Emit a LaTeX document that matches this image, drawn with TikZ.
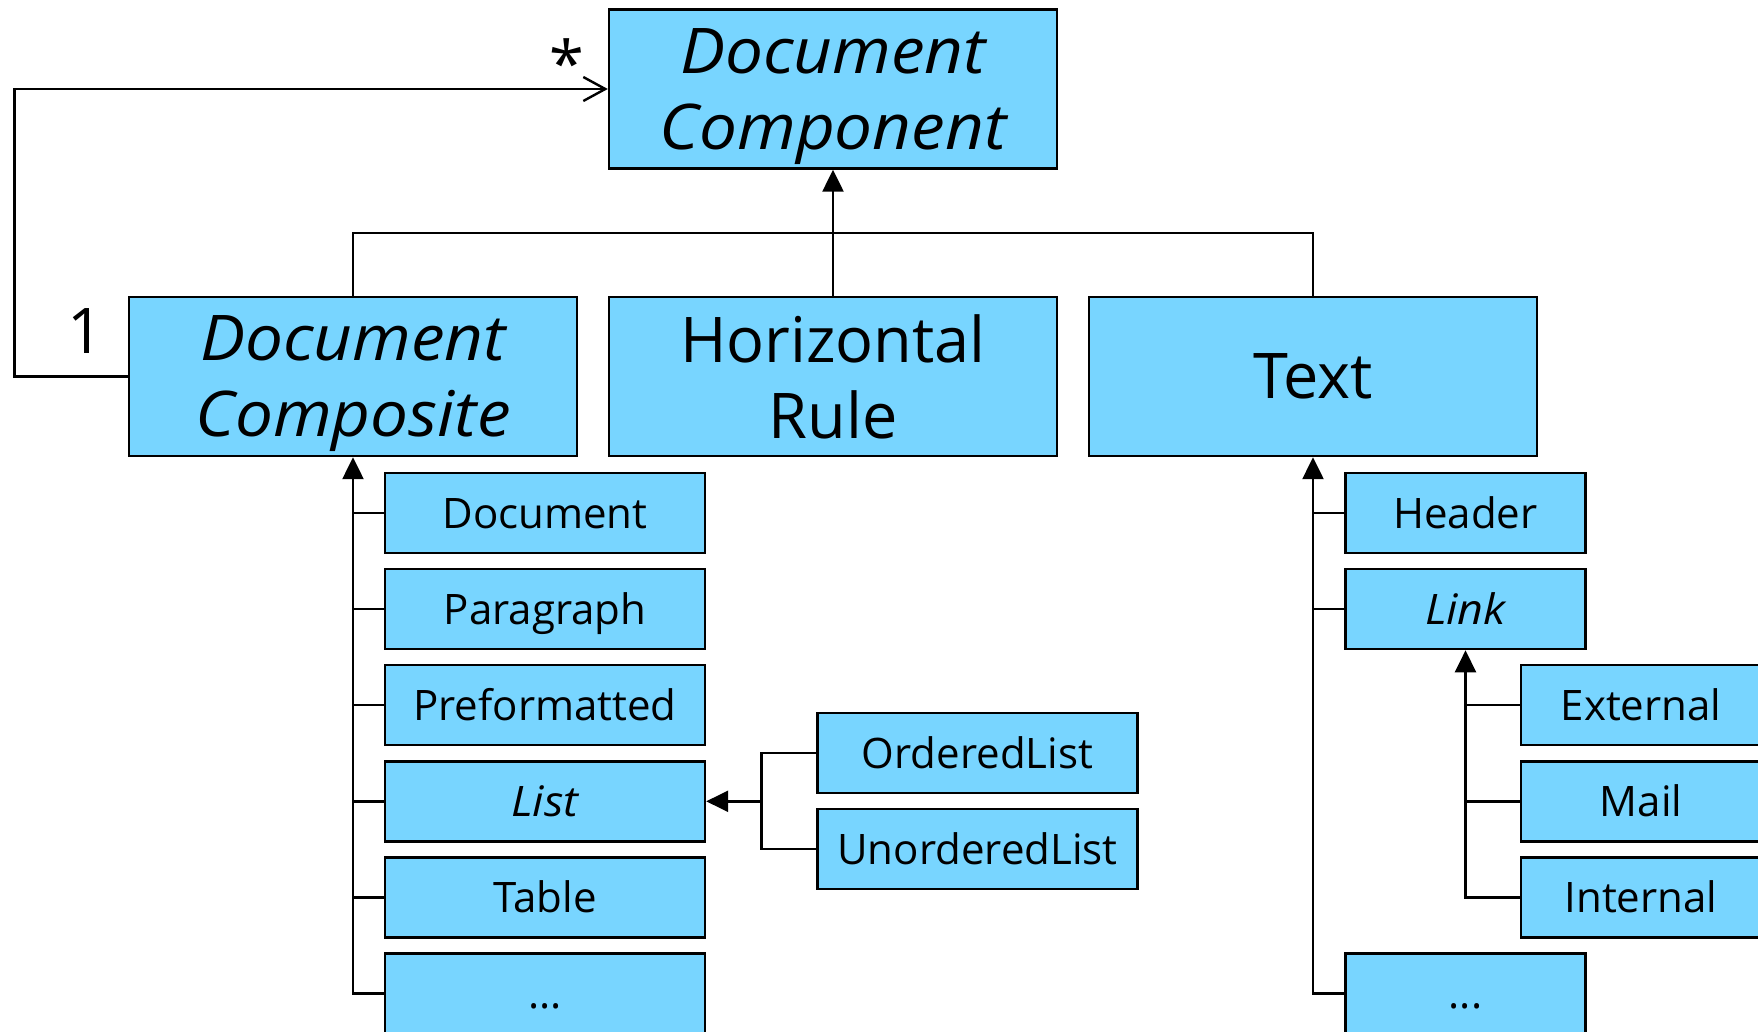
\documentclass[tikz,border=0pt]{standalone}
\usepackage{fontspec}
\setmainfont{Open Sans}[ItalicFeatures={FakeStretch=1.07}]
\usetikzlibrary{arrows.meta}
\definecolor{boxblue}{RGB}{120,213,255}
\begin{document}
\begin{tikzpicture}[x=1pt,y=-1pt,
  box/.style={draw=black, fill=boxblue, line width=2.4pt, inner sep=0pt, anchor=center},
  bigbox/.style={box, minimum width=448pt, minimum height=159pt, font=\fontsize{63}{76}\selectfont, align=center, text depth=0pt},
  bigital/.style={bigbox, font=\fontsize{63}{76}\selectfont\itshape},
  smallbox/.style={box, minimum width=320pt, minimum height=80pt, font=\fontsize{42}{50}\selectfont, text height=30pt, text depth=0pt},
  narrowbox/.style={smallbox, minimum width=240pt},
  conn/.style={line width=2.4pt},
  gen/.style={conn, -{Triangle[width=21pt,length=22pt]}},
  assoc/.style={conn, -{Straight Barb[width=24pt,length=22pt]}},
  mult/.style={font=\fontsize{63}{76}\selectfont, inner sep=0pt},
]
\useasboundingbox (0,0) rectangle (1758,1031);
\clip (0,0) rectangle (1758,1031);
% top level
\node[bigital] (dc) at (833,89) {Document\\Component};
\node[bigital] (dcomp) at (353,376.5) {Document\\Composite};
\node[bigbox] (hr) at (833,376.5) {Horizontal\\Rule};
\node[bigbox] (txt) at (1313,376.5) {Text};
% composite children
\node[smallbox] (l1) at (545,513) {Document};
\node[smallbox] (l2) at (545,609.1) {Paragraph};
\node[smallbox] (l3) at (545,705.2) {Preformatted};
\node[smallbox, font=\fontsize{42}{50}\selectfont\itshape] (l4) at (545,801.3) {List};
\node[smallbox] (l5) at (545,897.4) {Table};
\node[smallbox] (l6) at (545,993.5) {...};
% list children
\node[smallbox] (ol) at (977.5,753) {OrderedList};
\node[smallbox] (ul) at (977.5,849) {UnorderedList};
% text children
\node[narrowbox] (header) at (1465.5,513) {Header};
\node[narrowbox, font=\fontsize{42}{50}\selectfont\itshape] (link) at (1465.5,609.1) {Link};
\node[narrowbox] (tdots) at (1465.5,993.5) {...};
% link children
\node[narrowbox] (ext) at (1641,705.2) {External};
\node[narrowbox] (mail) at (1641,801.3) {Mail};
\node[narrowbox] (int) at (1641,897.4) {Internal};
% multiplicities
\node[mult] (star) at (567,63) {*};
\node[mult] (one) at (86,331) {1};
% generalisation to Document Component
\coordinate (bus) at (0,233);
\draw[gen] (hr.north) -- (dc.south);
\draw[conn] (dcomp.north) -- (dcomp.north |- bus) -- (txt.north |- bus) -- (txt.north);
% self association
\coordinate (selfc) at (14.6,0);
\draw[assoc] (dcomp.west) -| (selfc |- dc.west) -- (dc.west);
% composite trunk
\draw[gen] (l6.west) -| (dcomp.south);
\foreach \n in {l1,l2,l3,l4,l5} \draw[conn] (\n.west) -- (\n.west -| dcomp.south);
% list
\coordinate (lj) at (761.5,0);
\draw[gen] (lj |- l4.east) -- (l4.east);
\draw[conn] (ol.west) -| (lj |- ul.west) -- (ul.west);
% text trunk
\draw[gen] (tdots.west) -| (txt.south);
\foreach \n in {header,link} \draw[conn] (\n.west) -- (\n.west -| txt.south);
% link trunk
\draw[gen] (int.west) -| (link.south);
\foreach \n in {ext,mail} \draw[conn] (\n.west) -- (\n.west -| link.south);
\end{tikzpicture}
\end{document}
